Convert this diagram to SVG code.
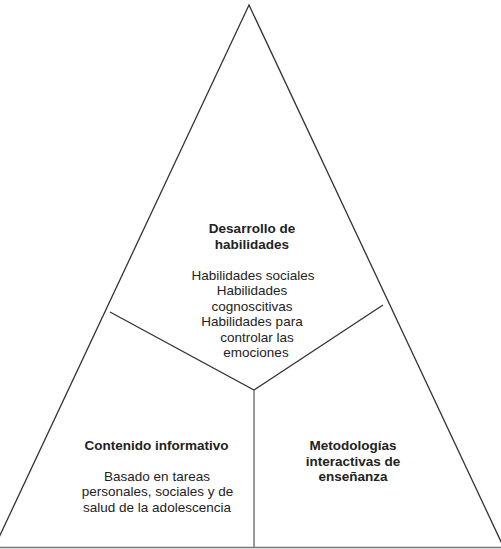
<svg xmlns="http://www.w3.org/2000/svg" width="501" height="549" viewBox="0 0 501 549">
<style>
.ln{fill:none;stroke:#333;stroke-width:1.3}
.gl{fill:none;stroke:#777;stroke-width:1.5}
text{font-family:"Liberation Sans",Arial,sans-serif;font-size:13.5px;fill:#222;text-anchor:middle}
.b{font-weight:bold}
</style>
<rect width="501" height="549" fill="#fff"/>
<g id="connectors">
<polyline class="ln" points="-6,548 249,5 504,548"/>
<polyline class="ln" points="110,312 254,390 383,305"/>
<line class="gl" x1="254" y1="390" x2="254" y2="548"/>
<line class="gl" x1="0" y1="547.5" x2="501" y2="547.5"/>
</g>
<g id="desarrollo">
<text class="b" x="252" y="233">Desarrollo de</text>
<text class="b" x="252" y="249">habilidades</text>
<text x="253" y="280">Habilidades sociales</text>
<text x="252" y="295">Habilidades</text>
<text x="252" y="311">cognoscitivas</text>
<text x="252" y="326">Habilidades para</text>
<text x="257" y="342">controlar las</text>
<text x="256" y="357">emociones</text>
</g>
<g id="contenido">
<text class="b" x="156.5" y="450">Contenido informativo</text>
<text x="157" y="481">Basado en tareas</text>
<text x="157.5" y="496">personales, sociales y de</text>
<text x="157" y="512">salud de la adolescencia</text>
</g>
<g id="metodologias">
<text class="b" x="353" y="450">Metodologías</text>
<text class="b" x="353" y="466">interactivas de</text>
<text class="b" x="353" y="481">enseñanza</text>
</g>
</svg>
